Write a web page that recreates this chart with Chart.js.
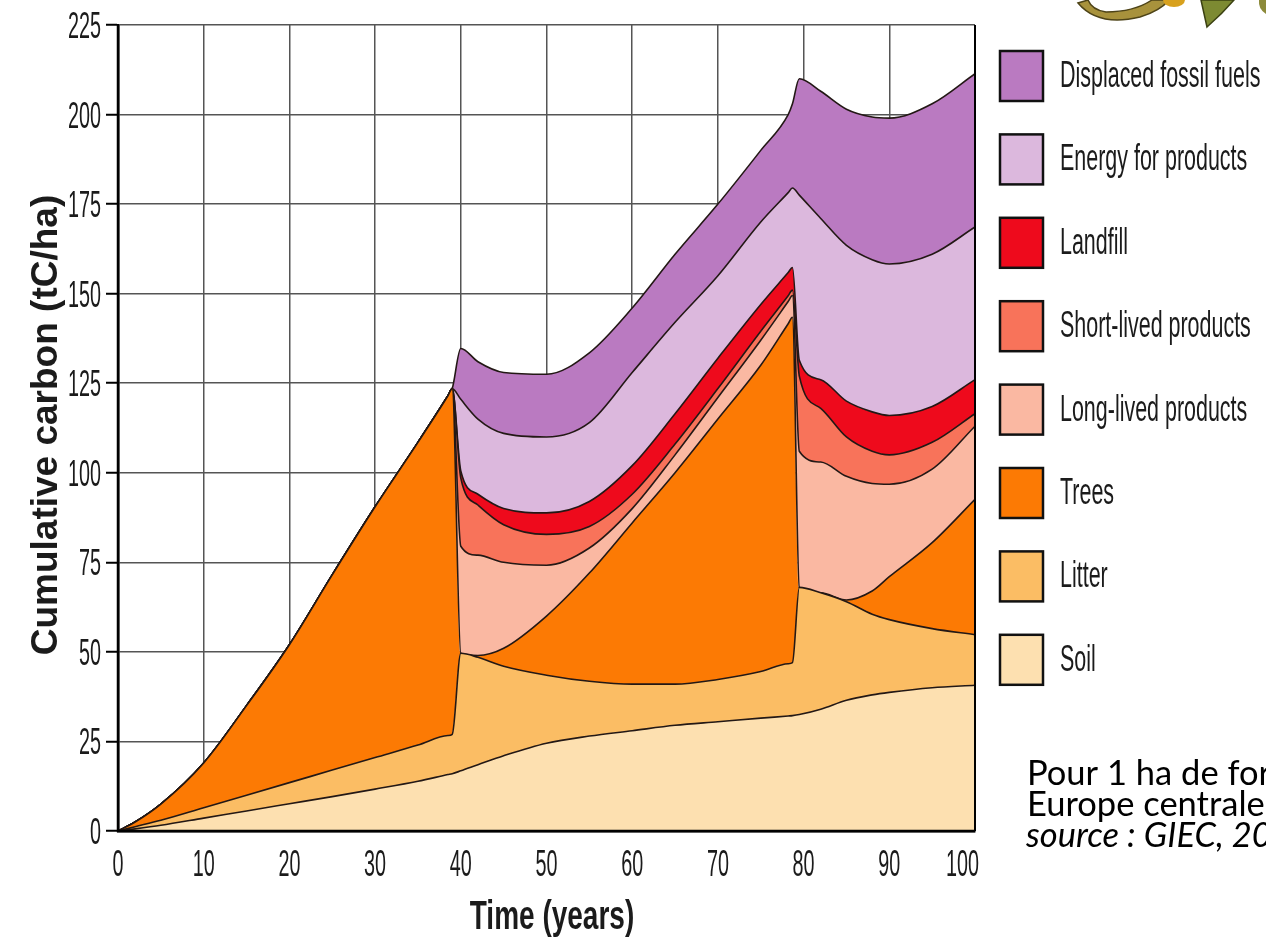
<!DOCTYPE html>
<html>
<head>
<meta charset="utf-8">
<script src="https://cdn.jsdelivr.net/npm/chart.js@4.4.1/dist/chart.umd.min.js"></script>
<style>
  html, body { margin: 0; padding: 0; background: #ffffff; }
  #wrap { width: 1266px; height: 949px; position: relative; }
</style>
</head>
<body>
<div id="wrap"><canvas id="c" width="1266" height="949"></canvas></div>
<script>
// Time axis samples (years); two harvests, around year 39-40 and 79-80
const years = [0, 2, 5, 10, 15, 20, 25, 30, 35, 38.5, 39, 40, 42, 45, 50, 55, 60, 65, 70, 75, 78.2, 78.7, 79.5, 82, 85, 88, 90, 95, 100];

// Carbon held in each pool (tC/ha), stacked from the bottom up
const soil       = [0, 0.6, 1.6, 3.6, 5.6, 7.6, 9.6, 11.7, 13.9, 15.75, 16, 16.8, 18.5, 21, 24.5, 26.5, 28, 29.5, 30.5, 31.5, 32.1, 32.2, 32.5, 34, 36.5, 38, 38.7, 40, 40.7];
const litter     = [0, 0.6, 1.4, 2.9, 4.4, 5.9, 7.4, 8.8, 10.1, 10.9, 11, 32.8, 30, 25, 19, 15.3, 13, 11.5, 11.8, 13, 14.6, 14.8, 35.5, 32.5, 27.5, 22.5, 20.3, 16.5, 14.1];
const trees      = [0, 1.3, 4.5, 12.5, 25, 38.5, 54.5, 70, 84.5, 94.85, 96.5, 0, 0.5, 5, 16.5, 30.2, 45, 59, 72.7, 85.5, 94.9, 96.4, 0, 0, 0.5, 6.5, 12, 24, 37.8];
const longLived  = [0, 0, 0, 0, 0, 0, 0, 0, 0, 0, 0, 29.9, 28, 24, 14.2, 7, 4, 5, 6, 7, 6.2, 6.1, 38, 36.5, 34.5, 30, 25.8, 20.5, 20.4];
const shortLived = [0, 0, 0, 0, 0, 0, 0, 0, 0, 0, 0, 19, 14, 10.5, 8.6, 6, 4, 3, 2.5, 2.5, 1.6, 1.5, 21, 15, 11, 9, 8.2, 7.5, 3.5];
const landfill   = [0, 0, 0, 0, 0, 0, 0, 0, 0, 0, 0, 2, 3, 4.5, 6, 7, 8, 8.5, 8.5, 7.5, 6.5, 6.3, 4.4, 8, 10, 11, 11, 10, 9.5];
const energy     = [0, 0, 0, 0, 0, 0, 0, 0, 0, 0, 0, 20, 21, 21, 21.2, 22, 26, 25.5, 23, 23, 22.3, 22.2, 46.1, 45, 43.5, 42.5, 42.3, 42.5, 42.6];
const displaced  = [0, 0, 0, 0, 0, 0, 0, 0, 0, 0, 0, 14.2, 16, 17, 17.5, 19.5, 18, 19, 20, 20, 21.8, 23.5, 32.5, 35.5, 38, 39.8, 40.7, 42, 42.8];

// Tick labels
const timeTicks   = [0, 10, 20, 30, 40, 50, 60, 70, 80, 90, 100];
const carbonTicks = [0, 25, 50, 75, 100, 125, 150, 175, 200, 225];

// Pool names, bottom to top
const poolNames = ['Soil', 'Litter', 'Trees', 'Long-lived products', 'Short-lived products', 'Landfill', 'Energy for products', 'Displaced fossil fuels'];
const poolValues = [soil, litter, trees, longLived, shortLived, landfill, energy, displaced];

// Styling
const poolColours = {
  'Soil': '#fde0b0',
  'Litter': '#fbbd64',
  'Trees': '#fc7a04',
  'Long-lived products': '#fab8a2',
  'Short-lived products': '#f8735a',
  'Landfill': '#ee0a1c',
  'Energy for products': '#dcb8dd',
  'Displaced fossil fuels': '#ba7ac1'
};
const edgeColour = '#231815';
const SANS = '"Liberation Sans", Arial, sans-serif';

const datasets = poolNames.map((name, i) => ({
  label: name,
  data: years.map((t, k) => ({ x: t, y: poolValues[i][k] })),
  backgroundColor: poolColours[name],
  borderColor: edgeColour,
  borderWidth: 1.6,
  fill: i === 0 ? 'origin' : '-1',
  pointRadius: 0,
  pointHoverRadius: 0,
  cubicInterpolationMode: 'monotone'
}));

// Text drawn with a horizontally condensed face
function narrowText(ctx, str, x, y, font, sx, align) {
  ctx.save();
  ctx.font = font;
  ctx.textAlign = align;
  ctx.textBaseline = 'alphabetic';
  ctx.translate(x, y);
  ctx.scale(sx, 1);
  ctx.fillText(str, 0, 0);
  ctx.restore();
}

const framePlugin = {
  id: 'frame',
  afterDatasetsDraw(chart) {
    const { ctx, chartArea: a } = chart;
    ctx.save();
    ctx.strokeStyle = '#000';
    ctx.lineWidth = 2;
    ctx.beginPath();
    ctx.moveTo(a.right, a.top);
    ctx.lineTo(a.right, a.bottom);
    ctx.stroke();
    ctx.lineWidth = 2.5;
    ctx.beginPath();
    ctx.moveTo(a.left, a.top);
    ctx.lineTo(a.left, a.bottom);
    ctx.lineTo(a.right, a.bottom);
    ctx.stroke();
    ctx.restore();
  }
};

const textPlugin = {
  id: 'figureText',
  afterDraw(chart) {
    const { ctx } = chart;
    const xs = chart.scales.x, ys = chart.scales.y;
    ctx.save();
    ctx.fillStyle = '#1b1b1b';

    // tick labels
    carbonTicks.forEach(v => {
      narrowText(ctx, String(v), 101, ys.getPixelForValue(v) + 13, '36px ' + SANS, 0.55, 'right');
    });
    timeTicks.forEach((v, i) => {
      let x = xs.getPixelForValue(v), align = 'center';
      if (i === timeTicks.length - 1) { x = 979; align = 'right'; }
      narrowText(ctx, String(v), x, 876, '36px ' + SANS, 0.55, align);
    });

    // axis titles
    narrowText(ctx, 'Time (years)', 552, 929, 'bold 40px ' + SANS, 0.7, 'center');
    ctx.save();
    ctx.translate(57, 425);
    ctx.rotate(-Math.PI / 2);
    ctx.font = 'bold 37px ' + SANS;
    ctx.textAlign = 'center';
    ctx.textBaseline = 'alphabetic';
    ctx.fillText('Cumulative carbon (tC/ha)', 0, 0);
    ctx.restore();

    // legend, top to bottom
    const ds = chart.data.datasets.slice().reverse();
    ds.forEach((d, i) => {
      const cy = 76 + i * 83.4;
      ctx.fillStyle = d.backgroundColor;
      ctx.fillRect(1000, cy - 25, 43, 50);
      ctx.strokeStyle = '#111';
      ctx.lineWidth = 2.5;
      ctx.strokeRect(1000, cy - 25, 43, 50);
      ctx.fillStyle = '#1b1b1b';
      narrowText(ctx, d.label, 1060, cy + 11, '37px ' + SANS, 0.58, 'left');
    });

    // note
    ctx.font = '33px Lato';
    const w = ctx.measureText('Europe centrale').width;
    const fs = Math.round(33 * 238 / w * 10) / 10;
    ctx.fillStyle = '#000';
    ctx.textAlign = 'left';
    ctx.textBaseline = 'alphabetic';
    ctx.font = fs + 'px Lato';
    ctx.fillText('Pour 1 ha de for', 1027, 785);
    ctx.fillText('Europe centrale', 1027, 816);
    ctx.font = 'italic ' + fs + 'px Lato';
    ctx.fillText('source : GIEC, 20', 1026, 847);

    // decorative emblem, top right
    ctx.lineWidth = 1.5;
    ctx.strokeStyle = '#4e4418';
    ctx.fillStyle = '#a8923c';
    ctx.beginPath();
    ctx.moveTo(1078, 3);
    ctx.quadraticCurveTo(1098, 27, 1140, 17);
    ctx.quadraticCurveTo(1160, 11, 1169, 0);
    ctx.lineTo(1152, 0);
    ctx.quadraticCurveTo(1134, 12, 1106, 12);
    ctx.quadraticCurveTo(1092, 10, 1088, 0);
    ctx.closePath();
    ctx.fill();
    ctx.stroke();
    ctx.fillStyle = '#d8a11e';
    ctx.beginPath();
    ctx.ellipse(1174, 0, 11, 7, 0, 0, Math.PI * 2);
    ctx.fill();
    ctx.fillStyle = '#7d8a32';
    ctx.strokeStyle = '#3b4112';
    ctx.beginPath();
    ctx.moveTo(1201, 0);
    ctx.lineTo(1207, 27);
    ctx.quadraticCurveTo(1222, 14, 1234, 0);
    ctx.closePath();
    ctx.fill();
    ctx.stroke();
    ctx.fillStyle = '#8c8a3a';
    ctx.beginPath();
    ctx.moveTo(1259, 0);
    ctx.quadraticCurveTo(1258, 9, 1266, 14);
    ctx.lineTo(1266, 0);
    ctx.closePath();
    ctx.fill();
    ctx.restore();
  }
};

new Chart(document.getElementById('c'), {
  type: 'line',
  data: { datasets },
  options: {
    responsive: false,
    animation: false,
    events: [],
    layout: { padding: { left: 0, right: 291, top: 25, bottom: 0 } },
    plugins: {
      legend: { display: false },
      tooltip: { enabled: false },
      filler: { propagate: false }
    },
    scales: {
      x: {
        type: 'linear',
        min: 0,
        max: 100,
        afterBuildTicks: s => { s.ticks = timeTicks.map(v => ({ value: v })); },
        ticks: { display: false },
        grid: { color: '#555555', lineWidth: 1.5, drawTicks: false },
        border: { color: '#000', width: 2.5 },
        afterFit: s => { s.height = 118; }
      },
      y: {
        stacked: true,
        min: 0,
        max: 225,
        afterBuildTicks: s => { s.ticks = carbonTicks.map(v => ({ value: v })); },
        ticks: { display: false },
        grid: { color: '#555555', lineWidth: 1.5, tickLength: 12, tickColor: '#000', tickWidth: 2 },
        border: { color: '#000', width: 2.5 },
        afterFit: s => { s.width = 118; }
      }
    }
  },
  plugins: [framePlugin, textPlugin]
});
</script>
</body>
</html>
